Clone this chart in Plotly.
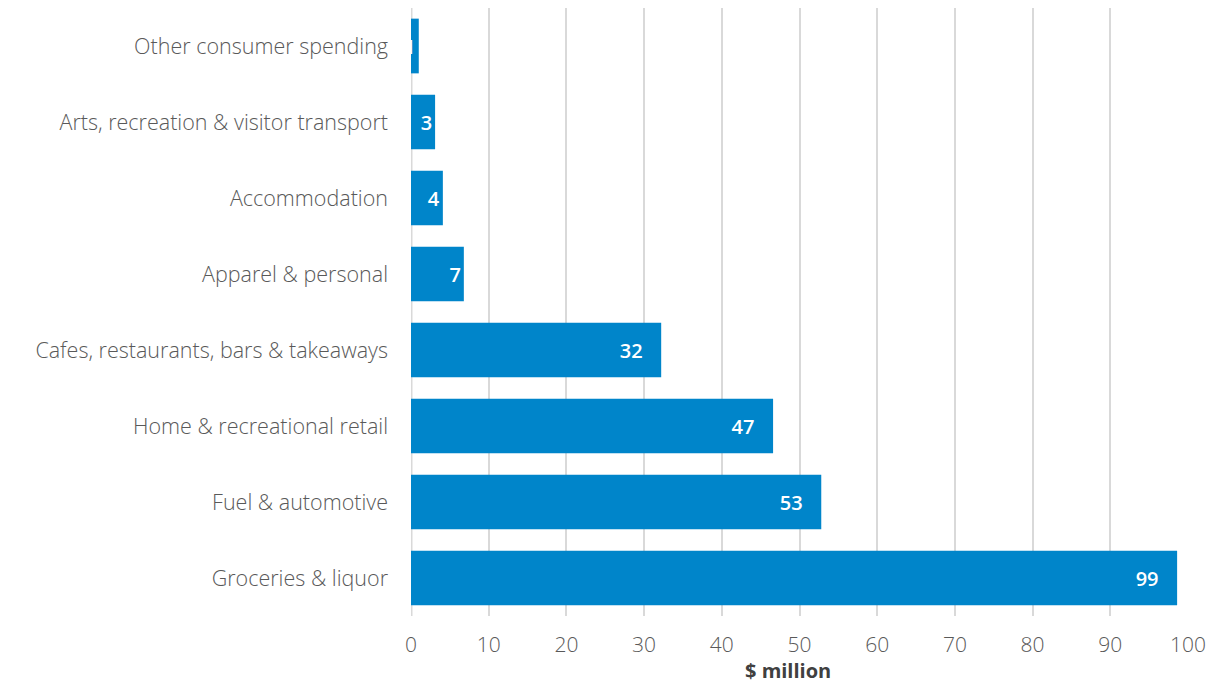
import plotly.graph_objects as go

categories = ["Groceries & liquor", "Fuel & automotive", "Home & recreational retail",
              "Cafes, restaurants, bars & takeaways", "Apparel & personal",
              "Accommodation", "Arts, recreation & visitor transport", "Other consumer spending"]
values = [98.6, 52.8, 46.6, 32.2, 6.8, 4.1, 3.1, 1.0]
labels = ["99", "53", "47", "32", "7", "4", "3", "1"]
x_ticks = [0, 10, 20, 30, 40, 50, 60, 70, 80, 90, 100]
x_title = "$ million"

text_labels = [l + ("\u00a0\u00a0\u00a0" if v >= 10 else "") for l, v in zip(labels, values)]

fig = go.Figure(go.Bar(
    y=categories, x=values, orientation="h",
    marker=dict(color="#0085CA", line=dict(width=0)),
    width=0.72,
    text=text_labels, textposition="inside", insidetextanchor="end",
    textfont=dict(color="white", size=20, family="Open Sans", weight=600),
    cliponaxis=False,
))

fig.update_layout(
    width=1206, height=687,
    margin=dict(l=411, r=18, t=8, b=71),
    paper_bgcolor="white", plot_bgcolor="white",
    font=dict(family="Open Sans", color="#595959", size=21),
    showlegend=False,
    xaxis=dict(range=[0, 100], tickvals=x_ticks, showgrid=True, automargin=False,
               gridcolor="#D9D9D9", gridwidth=2, zeroline=False,
               showline=False, ticklabelstandoff=14,
               tickfont=dict(size=21, color="#595959", weight=300)),
    yaxis=dict(showgrid=False, showline=False, zeroline=False, automargin=False,
               ticklabelstandoff=22, tickfont=dict(size=21.5, color="#595959", weight=300)),
    bargap=0.28,
    uniformtext=dict(minsize=8, mode="show"),
)
fig.add_annotation(text="<b>" + x_title + "</b>", xref="x", yref="paper", x=48.5, y=0,
                   yanchor="middle", yshift=-54, showarrow=False, borderpad=0,
                   font=dict(size=20, color="#404040", family="Open Sans"))
fig.add_shape(type="line", xref="x", yref="paper", x0=0, x1=0, y0=0, y1=1,
              line=dict(color="#D9D9D9", width=3), layer="below")

fig.write_html("out.html")
